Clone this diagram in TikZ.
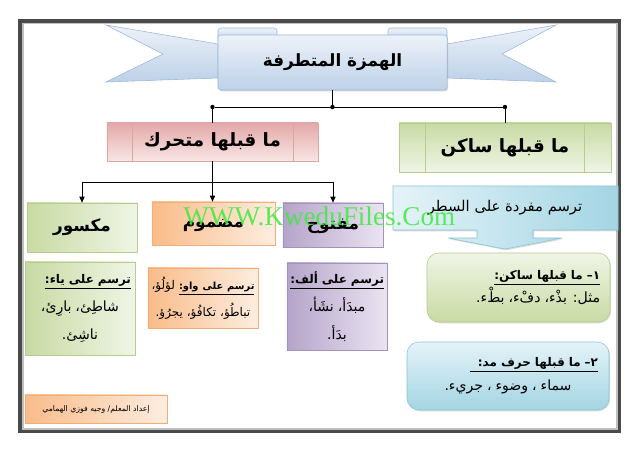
\documentclass[tikz,border=0pt]{standalone}
\usepackage{fontspec}
\newfontfamily\arabicfont[Script=Arabic]{DejaVu Sans}
\newfontfamily\latinfont{Liberation Serif}
\TeXXeTstate=1
\usepackage{tikz}
\usetikzlibrary{arrows.meta,shadows}
\definecolor{ribtop}{HTML}{EDF2F9}
\definecolor{ribbot}{HTML}{BDD1E8}
\definecolor{ribline}{HTML}{9CB8D9}
\definecolor{redtop}{HTML}{E3A9A8}
\definecolor{redbot}{HTML}{F8E6E5}
\definecolor{redline}{HTML}{D9A7A6}
\definecolor{greentop}{HTML}{C8DAA3}
\definecolor{greenbot}{HTML}{EFF5E5}
\definecolor{greenline}{HTML}{B8CC92}
\definecolor{orangetop}{HTML}{F9BC8A}
\definecolor{orangebot}{HTML}{FDEDE0}
\definecolor{orangeline}{HTML}{F3AE78}
\definecolor{purpletop}{HTML}{B5A4CA}
\definecolor{purplebot}{HTML}{EAE4F1}
\definecolor{purpleline}{HTML}{A392BA}
\definecolor{bluetop}{HTML}{A3D5E3}
\definecolor{bluebot}{HTML}{E4F3F8}
\definecolor{blueline}{HTML}{8CC5D5}
\definecolor{framecol}{HTML}{4A4A4A}
\definecolor{markcol}{HTML}{3DEB3D}
\newcommand\ul[1]{\underline{\beginR#1\endR}}
\newcommand\bodyfont{\fontsize{10}{20}\selectfont}

\begin{document}
\begin{tikzpicture}[x=0.025cm,y=-0.025cm,
  lift/.style={drop shadow={shadow xshift=.8pt,shadow yshift=-.9pt,opacity=.3}},
  ribbon/.style={draw=ribline,top color=ribtop,bottom color=ribbot},
  head/.style={draw=#1line,top color=#1top,bottom color=#1bot,inner sep=0,lift,text height=9pt,text depth=2pt,font=\arabicfont\bfseries\fontsize{13}{16}\selectfont},
  leaf/.style={draw=#1line,left color=#1top,right color=#1bot,inner sep=0,lift,text height=8pt,text depth=2pt,font=\arabicfont\bfseries\fontsize{12}{14}\selectfont},
  note/.style={draw=#1line,left color=#1top,right color=#1bot,inner sep=0,lift,font=\arabicfont\fontsize{8.5}{20}\selectfont},
  round/.style={draw=#1line,top color=#1bot,bottom color=#1top,rounded corners=0.3cm,inner sep=0,lift,font=\arabicfont\fontsize{8.5}{17}\selectfont},
  link/.style={black,line width=0.7pt},
  arr/.style={-{Triangle[length=1.5mm,width=1.3mm]},black,line width=0.7pt},
  dot/.style={circle,fill=black,inner sep=0,minimum size=1.1mm}]
\useasboundingbox (0,0) rectangle (640,453);
% frame
\draw[framecol,line width=2.8pt] (20,21) rectangle (619.5,431);
\draw[black!25,line width=1.2pt] (23,23.5) rectangle (617.3,428.8);
% ribbon behind the title
\shade[ribbon] (106,25) -- (218,44) -- (218,78) -- (106,82) -- (163,54) -- cycle;
\shade[ribbon] (556,25) -- (447,44) -- (447,78) -- (556,82) -- (502,54) -- cycle;
\shade[ribbon,rounded corners=2pt] (218,42) -- (218,28) -- (277,28) -- (277,42);
\shade[ribbon,rounded corners=2pt] (388,42) -- (388,28) -- (447,28) -- (447,42);
\node[ribbon,lift,rounded corners=2pt,inner sep=0,minimum width=5.725cm,minimum height=1.375cm,text height=8pt,text depth=2pt,font=\arabicfont\bfseries\fontsize{12}{14}\selectfont] (title) at (332.5,62.5) {\beginR الهمزة المتطرفة\endR};
% first split
\node[dot] (dotl) at (212.5,107) {};
\node[dot] (dotc) at (332.5,107) {};
\node[dot] (dotr) at (505,107) {};
\node[head=red,minimum width=5.275cm,minimum height=0.95cm] (moving) at (212.5,142) {\beginR ما قبلها متحرك\endR};
\node[head=green,minimum width=5.3cm,minimum height=1.225cm] (still) at (505,147.5) {\beginR ما قبلها ساكن\endR};
\draw[redline] ([xshift=0.65cm]moving.north west) -- ([xshift=0.65cm]moving.south west);
\draw[redline] ([xshift=-0.625cm]moving.north east) -- ([xshift=-0.625cm]moving.south east);
\draw[greenline] ([xshift=0.675cm]still.north west) -- ([xshift=0.675cm]still.south west);
\draw[greenline] ([xshift=-0.675cm]still.north east) -- ([xshift=-0.675cm]still.south east);
\draw[link] (title.south) -- (dotc);
\draw[link] (dotl) -- (dotr);
\draw[link] (dotl) -- (moving.north);
\draw[link] (dotr) -- (still.north);
% moving side
\coordinate (fork) at (212.5,182);
\node[leaf=green,minimum width=2.75cm,minimum height=1.225cm] (kasr) at (82,227.5) {\beginR مكسور\endR};
\node[leaf=orange,minimum width=3.075cm,minimum height=1.075cm] (damm) at (213.5,223.5) {\beginR مضموم\endR};
\node[leaf=purple,minimum width=2.5cm,minimum height=1.1cm] (fath) at (333,225) {\beginR مفتوح\endR};
\draw[link] (moving.south) -- (fork);
\draw[arr] (fork) -| (kasr);
\draw[arr] (fork) -- (damm.north-|fork);
\draw[arr] (fork) -| (fath);
\node[note=green,minimum width=2.75cm,minimum height=2.325cm,text width=2.55cm,align=center] (kasrnote) at (80,308.5) {\hfill\ul{\bfseries ترسم على ياء:}\\ \bodyfont\beginR شاطِئ، بارِئ،\endR\\ \beginR ناشِئ.\endR};
\node[note=orange,minimum width=2.75cm,minimum height=1.5cm,text width=2.75cm,align=center,font=\arabicfont\fontsize{8.5}{19}\selectfont] (dammnote) at (203,298) {\beginR\ul{\bfseries\fontsize{7}{19}\selectfont ترسم على واو:} لؤلُؤ،\endR\\ \beginR تباطُؤ، تكافُؤ، يجرُؤ.\endR};
\node[note=purple,minimum width=2.5cm,minimum height=2.175cm,text width=2.35cm,align=center] (fathnote) at (337,306.5) {\hfill\ul{\bfseries ترسم على ألف:}\\ \bodyfont\beginR مبدَأ، نشَأ،\endR\\ \beginR بدَأ.\endR};
% still side
\shade[draw=blueline,left color=bluebot,right color=bluetop,lift] (393,186) -- (618,186) -- (618,230) -- (533,230) -- (533,238) -- (562,238) -- (505,249) -- (448,238) -- (477,238) -- (477,230) -- (393,230) -- cycle;
\node[text height=7pt,text depth=2pt,font=\arabicfont\fontsize{10.5}{13}\selectfont] (single) at (505,208) {\beginR ترسم مفردة على السطر\endR};
\node[round=green,minimum width=4.575cm,minimum height=1.725cm,text width=4.08cm,align=right] (sukun) at (518.5,287.5) {\ul{\bfseries ١– ما قبلها ساكن:}\\ \fontsize{10}{17}\selectfont\beginR مثل: بذْء، دفْء، بطْء.\endR};
\node[round=blue,minimum width=5.05cm,minimum height=1.7cm,text width=4.5cm,align=center] (madd) at (508,376) {\hfill\underline{\makebox[3.2cm][r]{\bfseries\beginR ٢– ما قبلها حرف مد:\endR}}\\ \fontsize{10}{17}\selectfont\beginR سماء ، وضوء ، جريء.\endR};
% credit
\node[draw=orangeline,left color=orangetop,right color=orangebot,lift,inner sep=0,minimum width=3.55cm,minimum height=0.7cm,text height=4pt,text depth=1pt,font=\arabicfont\fontsize{5.5}{7}\selectfont] (credit) at (96,409) {\beginR إعداد المعلم/ وجيه فوزي الهمامي\endR};
\node[anchor=base west,inner sep=0,text=markcol,opacity=.85,font=\latinfont\fontsize{19.3}{22}\selectfont] (wmark) at (183,225) {WWW.KweduFiles.Com};
\end{tikzpicture}
\end{document}
